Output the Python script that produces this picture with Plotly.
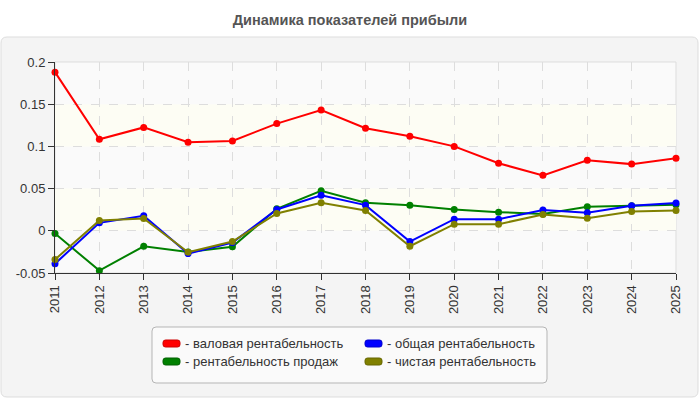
import plotly.graph_objects as go

years = [2011, 2012, 2013, 2014, 2015, 2016, 2017, 2018, 2019, 2020, 2021, 2022, 2023, 2024, 2025]
gross = [0.188, 0.1085, 0.1225, 0.105, 0.1065, 0.127, 0.143, 0.1215, 0.112, 0.100, 0.080, 0.0657, 0.0835, 0.079, 0.086]
total = [-0.039, 0.0094, 0.0177, -0.027, -0.014, 0.0253, 0.042, 0.0304, -0.0127, 0.0138, 0.0138, 0.0245, 0.0213, 0.0296, 0.0328]
sales = [-0.0032, -0.0472, -0.0183, -0.025, -0.019, 0.026, 0.0474, 0.0332, 0.0304, 0.0253, 0.0221, 0.020, 0.0284, 0.0296, 0.031]
net = [-0.034, 0.0122, 0.0146, -0.0254, -0.0127, 0.0206, 0.0332, 0.0241, -0.0183, 0.0078, 0.0078, 0.0194, 0.015, 0.023, 0.0241]

names = ["- валовая рентабельность", "- общая рентабельность", "- рентабельность продаж", "- чистая рентабельность"]
colors = ["#ff0000", "#0000ff", "#008000", "#808000"]
edge_colors = ["#cc0000", "#0000cc", "#006000", "#666600"]
series = [gross, total, sales, net]
draw_order = [0, 2, 1, 3]

ytick_vals = [-0.05, 0, 0.05, 0.1, 0.15, 0.2]
ytick_text = ["-0.05", "0", "0.05", "0.1", "0.15", "0.2"]
title = "Динамика показателей прибыли"

W, H = 700, 400
ML, MR, MT, MB = 55, 24, 62, 127
PW, PH = W - ML - MR, H - MT - MB


def px(x):
    return (x - ML) / PW


def py(y):
    return (H - MB - y) / PH


def rounded(x0, y0, x1, y1, r):
    rx, ry = r / PW, r / PH
    X0, X1 = px(x0), px(x1)
    Y0, Y1 = py(y0), py(y1)
    return (f"M{X0+rx},{Y0} L{X1-rx},{Y0} Q{X1},{Y0} {X1},{Y0-ry} "
            f"L{X1},{Y1+ry} Q{X1},{Y1} {X1-rx},{Y1} L{X0+rx},{Y1} "
            f"Q{X0},{Y1} {X0},{Y1+ry} L{X0},{Y0-ry} Q{X0},{Y0} {X0+rx},{Y0} Z")


fig = go.Figure()
for i in draw_order:
    fig.add_trace(go.Scatter(
        x=years, y=series[i], mode="lines+markers", name=names[i],
        line=dict(color=colors[i], width=2),
        marker=dict(color=colors[i], size=7),
        cliponaxis=False, showlegend=False, hoverinfo="x+y"))

shapes = [
    dict(type="path", xref="paper", yref="paper", path=rounded(1, 37, 698, 397, 6),
         fillcolor="#f4f4f4", line=dict(color="#dddddd", width=1), layer="below"),
    dict(type="rect", xref="paper", yref="paper", x0=0, x1=1, y0=0, y1=1,
         fillcolor="#fafafa", line=dict(color="#dddddd", width=1), layer="below"),
    dict(type="path", xref="paper", yref="paper", path=rounded(152, 327, 547, 383, 4),
         fillcolor="#fafafa", line=dict(color="#b5b5b5", width=1), layer="below"),
]
for lo, hi in [(0, 0.05), (0.1, 0.15)]:
    shapes.append(dict(type="rect", xref="paper", yref="y", x0=0, x1=1, y0=lo, y1=hi,
                       fillcolor="#fdfdf4", line=dict(width=0), layer="below"))

# manual legend: 2 columns x 2 rows
annotations = []
col_x = [163, 365]
row_y = [343.5, 361.5]
for k in range(4):
    cx = col_x[k % 2]
    cy = row_y[k // 2]
    shapes.append(dict(type="path", xref="paper", yref="paper",
                       path=rounded(cx, cy - 3.5, cx + 17, cy + 3.5, 2.5),
                       fillcolor=colors[k], line=dict(color=edge_colors[k], width=1),
                       layer="above"))
    annotations.append(dict(text=names[k], xref="paper", yref="paper",
                            x=px(cx + 20), y=py(cy), xanchor="left", yanchor="middle",
                            showarrow=False, font=dict(size=13, color="#333333")))

fig.update_layout(
    width=W, height=H,
    margin=dict(l=ML, r=MR, t=MT, b=MB),
    paper_bgcolor="white", plot_bgcolor="#fafafa",
    font=dict(family="Liberation Sans, Arial, sans-serif", size=13, color="#333333"),
    title=dict(text=f"<b>{title}</b>", x=0.5, xref="container", xanchor="center",
               y=1 - 20 / H, yref="container", yanchor="middle",
               font=dict(size=14.5, color="#555555")),
    shapes=shapes,
    annotations=annotations,
    showlegend=False,
    xaxis=dict(range=[2011, 2025], tickmode="array", tickvals=years,
               ticktext=[str(y) for y in years], tickangle=-90,
               showgrid=True, gridcolor="#dddddd", griddash="dash", gridwidth=1,
               showline=True, linecolor="#333333", linewidth=1,
               ticks="outside", ticklen=6, tickcolor="#333333", zeroline=False,
               tickfont=dict(size=13, color="#333333")),
    yaxis=dict(range=[-0.05, 0.2], tickmode="array", tickvals=ytick_vals, ticktext=ytick_text,
               showgrid=True, gridcolor="#dddddd", griddash="dash", gridwidth=1,
               showline=True, linecolor="#333333", linewidth=1,
               ticks="outside", ticklen=6, tickcolor="#333333", zeroline=False,
               tickfont=dict(size=13, color="#333333")),
)

fig.write_html("out.html")
